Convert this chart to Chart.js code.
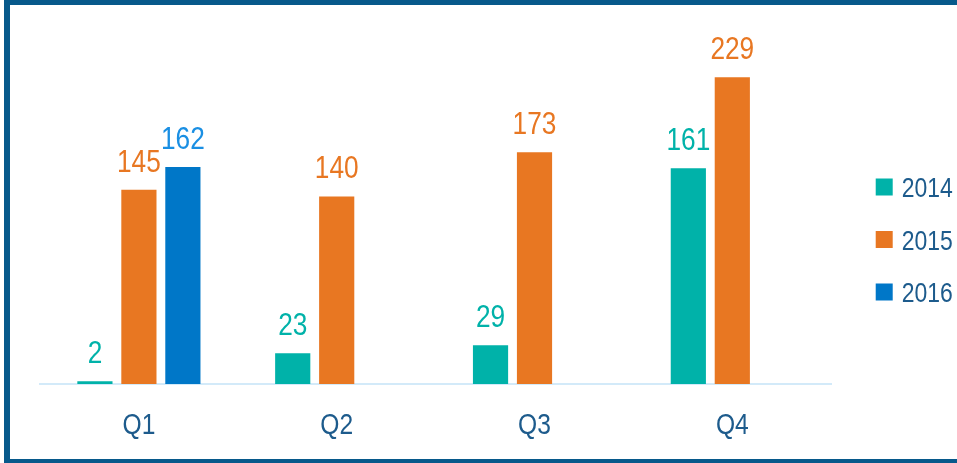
<!DOCTYPE html>
<html>
<head>
<meta charset="utf-8">
<script src="https://cdn.jsdelivr.net/npm/chart.js@4"></script>
<style>
  html, body { margin: 0; padding: 0; background: #fff; overflow: hidden; }
  .frame {
    position: absolute; left: 4px; top: 0; width: 1000px; height: 463px;
    box-sizing: border-box;
    border-top: 5px solid #07598b; border-left: 6px solid #07598b;
    border-bottom: 4px solid #07598b;
  }
  #chart { position: absolute; left: 0; top: 0; }
</style>
</head>
<body>
<div class="frame"></div>
<canvas id="chart" width="957" height="463"></canvas>
<script>
const categories = ['Q1', 'Q2', 'Q3', 'Q4'];
const years = ['2014', '2015', '2016'];
const values2014 = [2, 23, 29, 161];
const values2015 = [145, 140, 173, 229];
const values2016 = [162, null, null, null];

const FONT = "'Liberation Sans', Arial, sans-serif";
const textBlue = '#1d5b8c';
const NARROW = 0.82; // reference uses a condensed face

const barColors = ['#00b2a9', '#e87722', '#0077c8'];
const labelColors = ['#00b2a9', '#e87722', '#1a8fe3'];

function narrowText(ctx, text, x, y, size, color, align) {
    ctx.save();
    ctx.font = size + 'px ' + FONT;
    ctx.fillStyle = color;
    ctx.textAlign = align;
    ctx.textBaseline = 'alphabetic';
    ctx.translate(x, y);
    ctx.scale(NARROW, 1);
    ctx.fillText(text, 0, 0);
    ctx.restore();
}

// values above bars, category names and legend text in the condensed look
const narrowLabels = {
    id: 'narrowLabels',
    afterDraw(chart) {
        const ctx = chart.ctx;
        chart.data.datasets.forEach((ds, i) => {
            chart.getDatasetMeta(i).data.forEach((bar, j) => {
                const v = ds.data[j];
                if (v === null || v === undefined) return;
                narrowText(ctx, String(v), bar.x, bar.y - 18, 32, labelColors[i], 'center');
            });
        });
        const xs = chart.scales.x;
        xs.ticks.forEach((t, i) => {
            narrowText(ctx, categories[i], xs.getPixelForTick(i), xs.top + 50, 30, textBlue, 'center');
        });
        const lg = chart.legend;
        lg.legendItems.forEach((item, i) => {
            const hb = lg.legendHitBoxes[i];
            narrowText(ctx, item.text, hb.left + 26, hb.top + hb.height / 2 + 10, 28, textBlue, 'left');
        });
    }
};

new Chart(document.getElementById('chart'), {
    type: 'bar',
    data: {
        labels: categories,
        datasets: [
            { label: years[0], data: values2014, backgroundColor: barColors[0] },
            { label: years[1], data: values2015, backgroundColor: barColors[1] },
            { label: years[2], data: values2016, backgroundColor: barColors[2] }
        ]
    },
    options: {
        responsive: false,
        animation: false,
        layout: { padding: { left: 40, top: 49, right: -22, bottom: 33 } },
        datasets: {
            bar: { categoryPercentage: 0.667, barPercentage: 0.8 }
        },
        scales: {
            x: {
                grid: { display: false, drawTicks: false },
                border: { display: true, color: '#d3eaf9', width: 2 },
                ticks: { color: 'rgba(0,0,0,0)', font: { family: FONT, size: 30 }, padding: 22 },
                afterFit(s) { s.height = 46; }
            },
            y: {
                display: false,
                min: 0,
                max: 250
            },
            gap: {
                type: 'linear',
                position: 'right',
                grid: { display: false },
                border: { display: false },
                ticks: { display: false },
                afterFit(s) { s.width = 20; }
            }
        },
        plugins: {
            legend: {
                position: 'right',
                labels: {
                    color: 'rgba(0,0,0,0)',
                    font: { family: FONT, size: 28 },
                    boxWidth: 17,
                    boxHeight: 17,
                    padding: 24.5
                }
            },
            tooltip: { enabled: false }
        }
    },
    plugins: [narrowLabels]
});
</script>
</body>
</html>
